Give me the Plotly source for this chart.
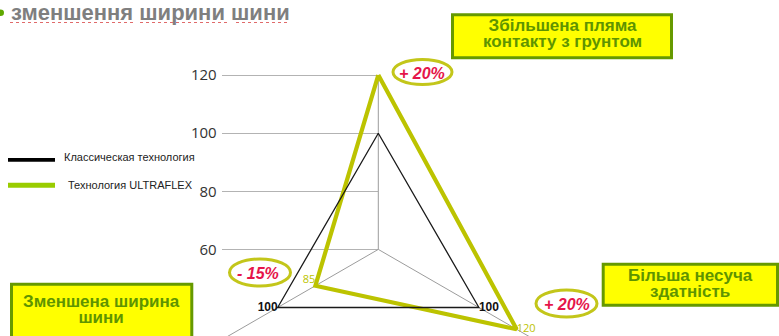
import math
import plotly.graph_objects as go

# ---------------- data ----------------
categories = ["Збільшена пляма контакту з грунтом", "Більша несуча здатність", "Зменшена ширина шини"]
angles_deg = [90, -30, 210]               # direction of each radar spoke
series_names = ["Классическая технология", "Технология ULTRAFLEX"]
classic = [100, 100, 100]
ultraflex = [120, 115, 85]                # drawn vertex positions (lower-right drawn ~115, labelled 120)
classic_labels = ["", "100", "100"]
ultraflex_labels = ["", "120", "85"]
changes = ["+ 20%", "+ 20%", "- 15%"]
radial_ticks = [60, 80, 100, 120]
r_min, r_max = 60, 120
spoke_ends = [120, 132, 132]

title_text = "зменшення ширини шини"
box_lines = [["Збільшена пляма", "контакту з грунтом"],
             ["Більша несуча", "здатність"],
             ["Зменшена ширина", "шини"]]

# ---------------- geometry / style ----------------
W, H = 779, 336
S = 2.905                  # px per value unit
CX, CY = 378.3, 249.4      # radar centre in px (top-left origin)

def px(x):
    return x / W

def py(y):
    return 1 - y / H

def polar_xy(vals, angs):
    xs, ys = [], []
    for v, a in zip(vals, angs):
        t = math.radians(a)
        xs.append((v - r_min) * math.cos(t))
        ys.append(r_min + (v - r_min) * math.sin(t))
    return xs, ys

YELLOW = "#bcc300"
GREEN_LEG = "#99cc00"
BOX_GREEN = "#669900"
BOX_TEXT = "#5e9400"
RED = "#e5154a"

fig = go.Figure()

# invisible trace to create the tick/grid subplot (x, y)
fig.add_trace(go.Scatter(x=[0, 1], y=[r_min, r_min], mode="lines", line=dict(width=0),
                         hoverinfo="skip", showlegend=False, xaxis="x", yaxis="y"))

# spokes
sx, sy = [], []
for a, e in zip(angles_deg, spoke_ends):
    xs, ys = polar_xy([r_min, e], [a, a])
    sx += xs + [None]
    sy += ys + [None]
fig.add_trace(go.Scatter(x=sx, y=sy, mode="lines", line=dict(color="#9c9c9c", width=1),
                         hoverinfo="skip", showlegend=False, xaxis="x2", yaxis="y2"))

# ULTRAFLEX polygon
ux, uy = polar_xy(ultraflex + ultraflex[:1], angles_deg + angles_deg[:1])
fig.add_trace(go.Scatter(x=ux, y=uy, mode="lines", line=dict(color=YELLOW, width=4.2),
                         name=series_names[1], showlegend=False, xaxis="x2", yaxis="y2"))
# classic polygon
kx, ky = polar_xy(classic + classic[:1], angles_deg + angles_deg[:1])
fig.add_trace(go.Scatter(x=kx, y=ky, mode="lines", line=dict(color="#1a1a1a", width=1.3),
                         name=series_names[0], showlegend=False, xaxis="x2", yaxis="y2"))

# vertex labels
lx, ly = polar_xy(classic, angles_deg)
fig.add_trace(go.Scatter(x=lx[1:], y=ly[1:], mode="text", text=classic_labels[1:],
                         textposition=["middle right", "middle left"],
                         textfont=dict(family="Liberation Sans", size=12, color="#111111", weight="bold"),
                         hoverinfo="skip", showlegend=False, xaxis="x2", yaxis="y2"))
vx, vy = polar_xy(ultraflex, angles_deg)
fig.add_trace(go.Scatter(x=vx[1:], y=vy[1:], mode="text", text=ultraflex_labels[1:],
                         textposition=["middle right", "top left"],
                         textfont=dict(family="Open Sans", size=11, color=YELLOW),
                         hoverinfo="skip", showlegend=False, xaxis="x2", yaxis="y2"))

y_lo = r_min - (H - CY) / S
y_hi = r_min + CY / S
x_lo = -CX / S
x_hi = (W - CX) / S

shapes = []
annotations = []

# title + bullet + spell-check underline
annotations.append(dict(x=px(9), y=py(13), xref="paper", yref="paper", xanchor="left", yanchor="middle",
                        text="<b>%s</b>" % title_text, showarrow=False,
                        font=dict(family="Liberation Sans", size=22, color="#7f7f7f")))
shapes.append(dict(type="circle", xref="paper", yref="paper", x0=px(-3), x1=px(4), y0=py(9.5), y1=py(16),
                   fillcolor="#5fa800", line=dict(width=0)))
for a0, a1 in [(10, 133), (140, 228), (236, 290)]:
    shapes.append(dict(type="line", xref="paper", yref="paper", x0=px(a0), x1=px(a1), y0=py(22.5), y1=py(22.5),
                       line=dict(color="#e06a6a", width=1, dash="dot")))

# legend
shapes.append(dict(type="rect", xref="paper", yref="paper", x0=px(8), x1=px(55), y0=py(158), y1=py(161.8),
                   fillcolor="#000000", line=dict(width=0)))
shapes.append(dict(type="rect", xref="paper", yref="paper", x0=px(8), x1=px(55), y0=py(182.7), y1=py(187.7),
                   fillcolor=GREEN_LEG, line=dict(width=0)))
annotations.append(dict(x=px(62), y=py(157), xref="paper", yref="paper", xanchor="left", yanchor="middle",
                        text=series_names[0], showarrow=False,
                        font=dict(family="Liberation Sans", size=11, color="#222222")))
annotations.append(dict(x=px(66), y=py(184.5), xref="paper", yref="paper", xanchor="left", yanchor="middle",
                        text=series_names[1], showarrow=False,
                        font=dict(family="Liberation Sans", size=11, color="#222222")))

# category boxes (two-line text in one annotation; small base font sets tight line spacing)
box_rects = [(452.5, 671.5, 14.8, 57.8), (603.2, 777.5, 264.2, 305.2), (11.5, 191.8, 284.2, 350)]
box_text_y = [33.9, 283.4, 309.2]
for (x0, x1, y0, y1), lines, yy in zip(box_rects, box_lines, box_text_y):
    shapes.append(dict(type="rect", xref="paper", yref="paper", x0=px(x0), x1=px(x1), y0=py(y0), y1=py(y1),
                       fillcolor="#ffff00", line=dict(color=BOX_GREEN, width=3)))
    txt = "<br>".join("<b><span style='font-size:17px'>%s</span></b>" % t for t in lines)
    annotations.append(dict(x=px((x0 + x1) / 2), y=py(yy), xref="paper", yref="paper",
                            xanchor="center", yanchor="middle", text=txt, showarrow=False,
                            font=dict(family="Liberation Sans", size=12, color=BOX_TEXT)))

# change callouts (ellipses)
ell = [(393, 452, 59.5, 84.5), (536, 597, 290, 317), (229.5, 290.5, 259, 286)]
txt_pos = [(421.5, 73), (567, 304.5), (258, 273)]
for (x0, x1, y0, y1), t, (tx, ty) in zip(ell, changes, txt_pos):
    shapes.append(dict(type="circle", xref="paper", yref="paper", x0=px(x0), x1=px(x1), y0=py(y0), y1=py(y1),
                       line=dict(color="#c3c61a", width=3)))
    annotations.append(dict(x=px(tx), y=py(ty), xref="paper", yref="paper", xanchor="center", yanchor="middle",
                            text="<b><i>%s</i></b>" % t, showarrow=False,
                            font=dict(family="Liberation Sans", size=16, color=RED)))

fig.update_layout(
    width=W, height=H, margin=dict(l=0, r=0, t=0, b=0),
    paper_bgcolor="white", plot_bgcolor="rgba(0,0,0,0)",
    showlegend=False,
    xaxis=dict(domain=[px(221.7), px(CX)], range=[0, 1], visible=False, fixedrange=True),
    yaxis=dict(domain=[0, 1], range=[y_lo, y_hi], tickvals=radial_ticks, showgrid=True,
               gridcolor="#b3b3b3", gridwidth=1, zeroline=False, showline=False,
               ticks="outside", ticklen=1, tickcolor="rgba(0,0,0,0)",
               tickfont=dict(family="Open Sans", size=15, color="#333333"), fixedrange=True),
    xaxis2=dict(domain=[0, 1], range=[x_lo, x_hi], visible=False, anchor="y2", fixedrange=True),
    yaxis2=dict(domain=[0, 1], range=[y_lo, y_hi], visible=False, anchor="x2", fixedrange=True),
    shapes=shapes, annotations=annotations,
)

fig.write_html("out.html")
